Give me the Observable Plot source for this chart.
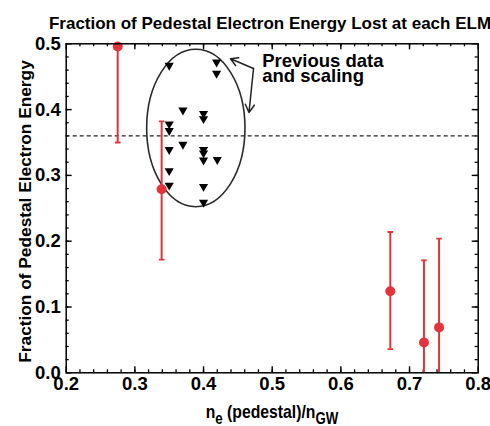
<!DOCTYPE html>
<html><head><meta charset="utf-8">
<script src="https://cdn.jsdelivr.net/npm/d3@7"></script>
<script src="https://cdn.jsdelivr.net/npm/@observablehq/plot@0.6"></script>
<style>
body{margin:0;background:#fff;}
</style>
</head><body><div id="chart"></div>
<script>
// ---- data ----
// new measurements (red circles with error bars)
const newX  = [0.275, 0.339, 0.672, 0.721, 0.743];
const newY  = [0.496, 0.279, 0.124, 0.046, 0.069];
const newLo = [0.350, 0.172, 0.036, -0.08, -0.08];
const newHi = [0.640, 0.382, 0.214, 0.171, 0.204];
// previous data (black down-triangles)
const prevX = [0.350,0.419,0.419,0.370,0.400,0.400,0.350,0.350,0.370,0.350,0.400,0.400,0.400,0.420,0.350,0.350,0.400,0.400];
const prevY = [0.467,0.472,0.455,0.399,0.394,0.386,0.378,0.368,0.347,0.339,0.339,0.334,0.323,0.324,0.307,0.285,0.283,0.259];
// reference level (dashed line)
const refLevel = [0.36];
// tick labels
const xTicks = [0.2,0.3,0.4,0.5,0.6,0.7,0.8];
const yTicks = [0.0,0.1,0.2,0.3,0.4,0.5];
const xMinor = d3.range(1,30).map(i => +(0.2 + i*0.02).toFixed(2));
const yMinor = d3.range(1,25).map(i => +(i*0.02).toFixed(2));
// annotation
const ellipseC = {x: 0.3895, y: 0.3713, rx: 0.0716, ry: 0.1196};
const arrowX1 = [0.4728, 0.4728], arrowY1 = [0.4625, 0.4625];
const arrowX2 = [0.4393, 0.4662], arrowY2 = [0.4772, 0.3956];
const noteX = [0.4854], noteY = [0.4815], noteText = ["Previous data\nand scaling"];
const titleText = "Fraction of Pedestal Electron Energy Lost at each ELM";
const yLabel = "Fraction of Pedestal Electron Energy";

// ---- layout ----
const W = 490, H = 426, mL = 65.7, mR = 12.3, mT = 43.3, mB = 53.7;
const fw = W - mL - mR, fh = H - mT - mB;
const red = "#e3343b";
const font = "'Liberation Sans',Arial,Helvetica,sans-serif";

const newData = newX.map((x,i) => ({x, y: newY[i], lo: newLo[i], hi: newHi[i]}));
const prevData = prevX.map((x,i) => ({x, y: prevY[i]}));
const arrows = arrowX1.map((x,i) => ({x1: x, y1: arrowY1[i], x2: arrowX2[i], y2: arrowY2[i]}));
const notes = noteX.map((x,i) => ({x, y: noteY[i], t: noteText[i]}));

const capSymbol = { draw(ctx, size) { ctx.moveTo(-2.8, 0); ctx.lineTo(2.8, 0); } };

const plot = Plot.plot({
  width: W, height: H,
  marginLeft: mL, marginRight: mR, marginTop: mT, marginBottom: mB,
  x: {domain: [0.2, 0.8], axis: null},
  y: {domain: [0, 0.5], axis: null},
  style: {fontFamily: font, fontWeight: "bold", background: "#fff", color: "#000", overflow: "visible"},
  marks: [
    // minor ticks (inward, all four sides)
    Plot.tickX(xMinor, {x: d => d, insetTop: fh - 3, stroke: "#000", strokeWidth: 1.3}),
    Plot.tickX(xMinor, {x: d => d, insetBottom: fh - 3, stroke: "#000", strokeWidth: 1.3}),
    Plot.tickY(yMinor, {y: d => d, insetRight: fw - 3, stroke: "#000", strokeWidth: 1.3}),
    Plot.tickY(yMinor, {y: d => d, insetLeft: fw - 3, stroke: "#000", strokeWidth: 1.3}),
    // major ticks
    Plot.tickX(xTicks, {x: d => d, insetTop: fh - 6, stroke: "#000", strokeWidth: 1.4}),
    Plot.tickX(xTicks, {x: d => d, insetBottom: fh - 6, stroke: "#000", strokeWidth: 1.4}),
    Plot.tickY(yTicks, {y: d => d, insetRight: fw - 6, stroke: "#000", strokeWidth: 1.4}),
    Plot.tickY(yTicks, {y: d => d, insetLeft: fw - 6, stroke: "#000", strokeWidth: 1.4}),
    // tick labels
    Plot.text(xTicks, {x: d => d, frameAnchor: "bottom", dy: 4, lineAnchor: "top", text: d3.format(".1f"),
      fontSize: 18.5, fontWeight: "bold", fontFamily: font, fill: "#000", ariaLabel: "xticklabels"}),
    Plot.text(yTicks, {y: d => d, frameAnchor: "left", dx: -5.5, textAnchor: "end", text: d3.format(".1f"),
      fontSize: 18.5, fontWeight: "bold", fontFamily: font, fill: "#000", ariaLabel: "yticklabels"}),
    // dashed reference
    Plot.ruleY(refLevel, {y: d => d, stroke: "#222", strokeWidth: 1.3, strokeDasharray: "4 3"}),
    // ellipse around previous data
    (index, scales) => {
      const {x, y} = scales;
      const e = d3.create("svg:ellipse")
        .attr("cx", x(ellipseC.x)).attr("cy", y(ellipseC.y))
        .attr("rx", Math.abs(x(ellipseC.x + ellipseC.rx) - x(ellipseC.x)))
        .attr("ry", Math.abs(y(ellipseC.y + ellipseC.ry) - y(ellipseC.y)))
        .attr("fill", "none").attr("stroke", "#2a2a2a").attr("stroke-width", 1.6);
      return e.node();
    },
    // previous data
    Plot.dot(prevData, {x: "x", y: "y", symbol: "triangle", rotate: 180, r: 3.4, fill: "#000", stroke: "none"}),
    // error bars
    Plot.ruleX(newData, {x: "x", y1: "lo", y2: "hi", stroke: red, strokeWidth: 2, clip: true}),
    Plot.dot(newData, {x: "x", y: "hi", symbol: capSymbol, stroke: red, strokeWidth: 1.8, clip: true}),
    Plot.dot(newData, {x: "x", y: "lo", symbol: capSymbol, stroke: red, strokeWidth: 1.8, clip: true}),
    Plot.dot(newData, {x: "x", y: "y", r: 5, fill: red, stroke: "none"}),
    // annotation
    Plot.arrow(arrows, {x1: "x1", y1: "y1", x2: "x2", y2: "y2", stroke: "#222", strokeWidth: 1.5, headLength: 9}),
    Plot.text(notes, {x: "x", y: "y", text: "t", textAnchor: "start", lineAnchor: "top", lineHeight: 0.82,
      fontSize: 18.5, fontWeight: "bold", fontFamily: font, fill: "#000", ariaLabel: "note"}),
    Plot.frame({stroke: "#000", strokeWidth: 1.5})
  ]
});

// condense text horizontally (the reference uses a narrow face)
function condense(sel, s) {
  sel.each(function() {
    const t = this.getAttribute("transform") || "";
    const x = +(this.getAttribute("x") || 0), y = +(this.getAttribute("y") || 0);
    this.removeAttribute("x"); this.removeAttribute("y");
    this.setAttribute("transform", `${t} translate(${x},${y}) scale(${s},1)`);
  });
}

const svg = d3.select(plot);
condense(svg.selectAll("g[aria-label='xticklabels'] text, g[aria-label='yticklabels'] text"), 0.76);
condense(svg.selectAll("g[aria-label='note'] text"), 0.79);

svg.append("text").attr("x", 270).attr("y", 28.5).attr("text-anchor", "middle")
  .style("font-family", font).style("font-size", "17px").style("font-weight", "bold")
  .text(titleText);
svg.append("text").attr("transform", "translate(30.5,211.5) rotate(-90)").attr("text-anchor", "middle")
  .style("font-family", font).style("font-size", "17.3px").style("font-weight", "bold")
  .text(yLabel);
const xl = svg.append("text").attr("text-anchor", "middle")
  .style("font-family", font).style("font-size", "19px").style("font-weight", "bold");
xl.append("tspan").text("n");
xl.append("tspan").attr("dy", 6).style("font-size", "16px").text("e");
xl.append("tspan").attr("dy", -6).text(" (pedestal)/n");
xl.append("tspan").attr("dy", 6).style("font-size", "16px").text("GW");
xl.attr("transform", "translate(272,417.5) scale(0.83,1)");

document.getElementById("chart").appendChild(plot);
</script>
</body></html>
